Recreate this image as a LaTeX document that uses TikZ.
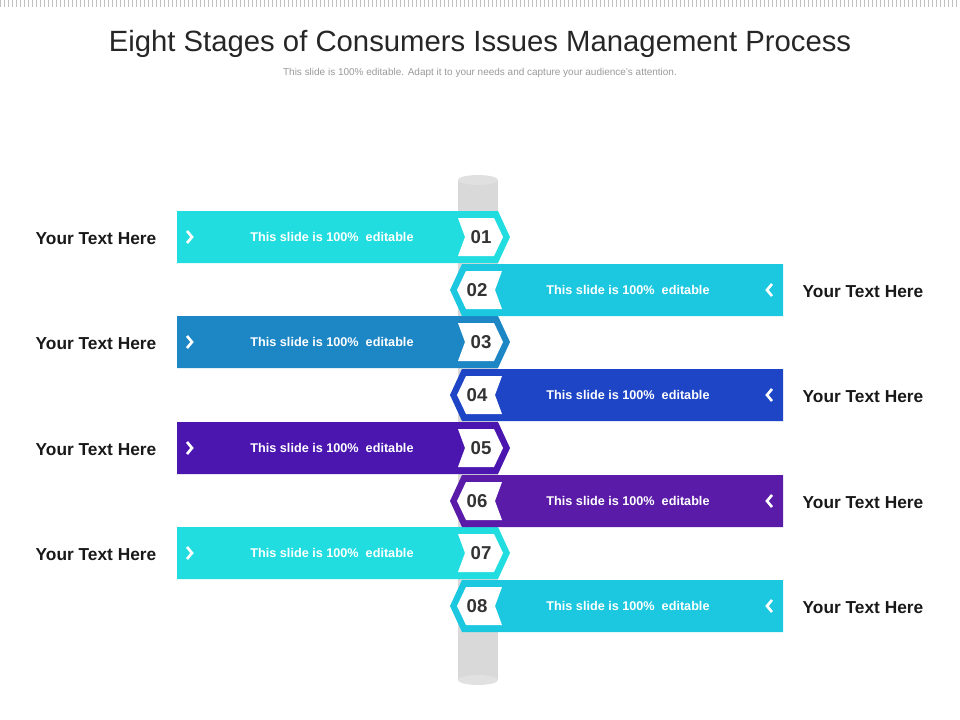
\documentclass[tikz,border=0pt]{standalone}
\usepackage{fontspec}
\setmainfont{Liberation Sans}
\definecolor{cA}{HTML}{22DDE0}
\definecolor{cB}{HTML}{1CC8DF}
\definecolor{cC}{HTML}{1D87C6}
\definecolor{cD}{HTML}{1D45C6}
\definecolor{cE}{HTML}{4B16B0}
\definecolor{cF}{HTML}{5A1CA8}
\definecolor{pole}{HTML}{D9D9D9}
\tikzset{
    bantext/.style = {text = white, font = \bfseries\fontsize{9.5}{11}\selectfont},
    numtext/.style = {text = black!80, font = \bfseries\fontsize{14}{16}\selectfont},
    sidetext/.style = {text = black!90, font = \bfseries\fontsize{13}{15}\selectfont},
    mark/.style = {}
}
\begin{document}
\begin{tikzpicture}[x = 0.0264cm, y = -0.0264cm]
    \useasboundingbox (0, 0) rectangle (960, 720);
    \draw [black!30, dash pattern = on 0pt off 0pt] (0, 0);
    \foreach \i in {0, 4, ..., 956} \draw [black!25, line width = 0.3pt] (\i, 0) -- (\i, 7);

    \node (title) [font = \fontsize{22}{26}\selectfont, text = black!85] at (480, 44) {Eight Stages of Consumers Issues Management Process};
    \node (sub) [font = \fontsize{7.5}{9}\selectfont, text = black!40] at (480, 73) {This slide is 100\% editable. Adapt it to your needs and capture your audience's attention.};

    % pole
    \fill [pole] (458, 180) rectangle (498, 680);
    \fill [pole!80] (478, 680) ellipse [x radius = 20, y radius = 5];
    \fill [black!12] (478, 180) ellipse [x radius = 20, y radius = 5];

    % left banners
    \foreach \y/\c/\n [count = \k] in {237/cA/01, 342/cC/03, 448/cE/05, 553/cA/07} {
        \fill [\c] (177, \y - 26) -- (498, \y - 26) -- (510, \y) -- (498, \y + 26) -- (177, \y + 26) -- cycle;
        \fill [white] (458, \y - 19) -- (494, \y - 19) -- (503, \y) -- (494, \y + 19) -- (458, \y + 19) -- (465, \y) -- cycle;
        \node (num\n) [numtext] at (481, \y) {\n};
        \node (ban\n) [bantext] at (332, \y) {This slide is 100\%\ \ editable};
        \node (side\n) [sidetext] at (96, \y + 2) {Your Text Here};
        \draw [white, line width = 2pt] (187, \y - 6) -- (192, \y) -- (187, \y + 6);
    }

    % right banners
    \foreach \y/\c/\n [count = \k] in {290/cB/02, 395/cD/04, 501/cF/06, 606/cB/08} {
        \fill [\c] (783, \y - 26) -- (462, \y - 26) -- (450, \y) -- (462, \y + 26) -- (783, \y + 26) -- cycle;
        \fill [white] (502, \y - 19) -- (466, \y - 19) -- (457, \y) -- (466, \y + 19) -- (502, \y + 19) -- (495, \y) -- cycle;
        \node (num\n) [numtext] at (477, \y) {\n};
        \node (ban\n) [bantext] at (628, \y) {This slide is 100\%\ \ editable};
        \node (side\n) [sidetext] at (863, \y + 2) {Your Text Here};
        \draw [white, line width = 2pt] (772, \y - 6) -- (767, \y) -- (772, \y + 6);
    }
\end{tikzpicture}
\end{document}
